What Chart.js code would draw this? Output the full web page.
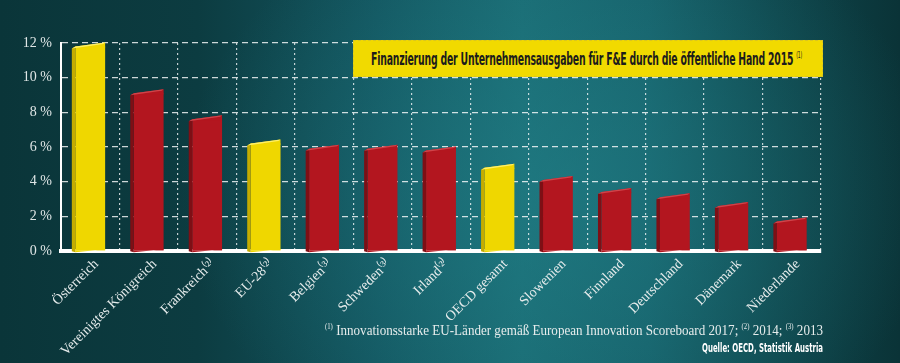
<!DOCTYPE html>
<html>
<head>
<meta charset="utf-8">
<script src="https://cdn.jsdelivr.net/npm/chart.js@4.4.1/dist/chart.umd.min.js"></script>
<style>
  html, body { margin: 0; padding: 0; }
  body { width: 900px; height: 363px; overflow: hidden; position: relative;
    background:
      radial-gradient(ellipse 380px 300px at 560px 190px, rgba(34,130,138,0.55), rgba(34,130,138,0) 100%),
      linear-gradient(90deg, #0a3539 0%, #0c3c41 22%, #135660 42%, #1a6b73 58%, #166069 72%, #0f474d 86%, #0a3337 100%);
  }
  #wrap { position: absolute; left: 0; top: 0; width: 900px; height: 363px; }
  .fit { position: absolute; white-space: nowrap; transform-origin: 0 0; }
  #titlebox { position: absolute; left: 353px; top: 40px; width: 470px; height: 37px;
    background: #f1da00; box-sizing: border-box; border: 1px dashed #d9c520; }
  #title { font-family: "DejaVu Sans Condensed", "DejaVu Sans", sans-serif; font-weight: bold;
    font-size: 17px; color: #1c1c1c; top: 49px; left: 371px; letter-spacing: -0.3px; }
  #title sup { font-size: 8px; vertical-align: 7px; font-weight: normal; }
  #foot { font-family: "Liberation Serif", serif; font-size: 15.5px; color: #e6ecec; top: 321px; left: 325px; }
  #foot sup { font-size: 8px; vertical-align: 6px; }
  #src { font-family: "DejaVu Sans Condensed", "DejaVu Sans", sans-serif; font-weight: bold;
    font-size: 12.5px; color: #ffffff; top: 340px; left: 702px; }
</style>
</head>
<body>
<div id="wrap"><canvas id="c" width="900" height="363"></canvas></div>
<div id="titlebox"></div>
<div class="fit" id="title" data-w="431">Finanzierung der Unternehmensausgaben für F&amp;E durch die öffentliche Hand 2015 <sup>(1)</sup></div>
<div class="fit" id="foot" data-w="498"><sup>(1)</sup> Innovationsstarke EU-Länder gemäß European Innovation Scoreboard 2017; <sup>(2)</sup> 2014; <sup>(3)</sup> 2013</div>
<div class="fit" id="src" data-w="121">Quelle: OECD, Statistik Austria</div>
<script>
const categories = ['Österreich', 'Vereinigtes Königreich', 'Frankreich⁽²⁾', 'EU-28⁽²⁾', 'Belgien⁽³⁾', 'Schweden⁽³⁾', 'Irland⁽²⁾', 'OECD gesamt', 'Slowenien', 'Finnland', 'Deutschland', 'Dänemark', 'Niederlande'];
const values = [11.8, 9.1, 7.6, 6.2, 5.9, 5.9, 5.8, 4.8, 4.1, 3.4, 3.1, 2.6, 1.7];
const highlighted = [true, false, false, true, false, false, false, true, false, false, false, false, false];
const yTicks = [0, 2, 4, 6, 8, 10, 12];

const FRONT_Y = '#efd700', SIDE_Y = '#c4ac00', TOP_Y = '#fff06a';
const FRONT_R = '#b3161f', SIDE_R = '#7e0f15', TOP_R = '#d0444a';

document.querySelectorAll('.fit').forEach(el => {
  const w = parseFloat(el.dataset.w);
  const s = w / el.getBoundingClientRect().width;
  el.style.transform = 'scaleX(' + s + ')';
});

const bar3d = {
  id: 'bar3d',
  afterDatasetsDraw(chart) {
    const ctx = chart.ctx;
    const meta = chart.getDatasetMeta(0);
    meta.data.forEach((bar, i) => {
      const p = bar.getProps(['x', 'y', 'base', 'width'], true);
      const L = p.x - p.width / 2, R = p.x + p.width / 2;
      const hi = highlighted[i];
      ctx.save();
      ctx.fillStyle = hi ? FRONT_Y : FRONT_R;
      ctx.beginPath(); ctx.moveTo(L, p.y); ctx.lineTo(R, p.y - 4); ctx.lineTo(R, p.y + 1); ctx.lineTo(L, p.y + 1); ctx.closePath(); ctx.fill();
      ctx.beginPath(); ctx.moveTo(L, p.base); ctx.lineTo(R, p.base); ctx.lineTo(R, p.base - 1); ctx.lineTo(L, p.base + 2); ctx.closePath(); ctx.fill();
      ctx.fillStyle = hi ? SIDE_Y : SIDE_R;
      ctx.beginPath(); ctx.moveTo(L - 3.5, p.y + 2); ctx.lineTo(L, p.y); ctx.lineTo(L, p.base + 2); ctx.lineTo(L - 3.5, p.base + 1); ctx.closePath(); ctx.fill();
      ctx.fillStyle = hi ? TOP_Y : TOP_R;
      ctx.beginPath(); ctx.moveTo(L - 3.5, p.y + 2); ctx.lineTo(L, p.y); ctx.lineTo(R, p.y - 4); ctx.lineTo(R - 2, p.y - 2.5); ctx.closePath(); ctx.fill();
      ctx.restore();
    });
  }
};

new Chart(document.getElementById('c'), {
  type: 'bar',
  data: {
    labels: categories,
    datasets: [{
      data: values,
      backgroundColor: highlighted.map(h => h ? FRONT_Y : FRONT_R),
      borderWidth: 0,
      barPercentage: 0.51,
      categoryPercentage: 1.0
    }]
  },
  options: {
    responsive: false,
    animation: false,
    events: [],
    layout: { padding: { top: 43, right: 79, left: 0, bottom: 0 } },
    plugins: { legend: { display: false }, tooltip: { enabled: false } },
    scales: {
      y: {
        min: 0, max: 12,
        afterFit(s) { s.width = 61; },
        afterBuildTicks(s) { s.ticks = yTicks.map(v => ({ value: v })); },
        ticks: {
          color: '#dfe6e6',
          font: { family: '"Liberation Serif", serif', size: 14 },
          padding: 9,
          callback: v => v + ' %'
        },
        grid: { color: 'rgba(255,255,255,0.8)', lineWidth: 1.3, drawTicks: false },
        border: { display: true, color: '#ffffff', width: 2, dash: [6, 4] }
      },
      x: {
        offset: true,
        afterFit(s) { s.height = 112; },
        ticks: {
          color: '#e6ecec',
          font: { family: '"Liberation Serif", serif', size: 14 },
          minRotation: 45, maxRotation: 45,
          padding: 5,
          labelOffset: 6,
          autoSkip: false
        },
        grid: { offset: true, color: 'rgba(255,255,255,0.75)', lineWidth: 1.2, drawTicks: false },
        border: { display: true, color: '#ffffff', width: 4, dash: [2, 3] }
      }
    }
  },
  plugins: [bar3d]
});
</script>
</body>
</html>
